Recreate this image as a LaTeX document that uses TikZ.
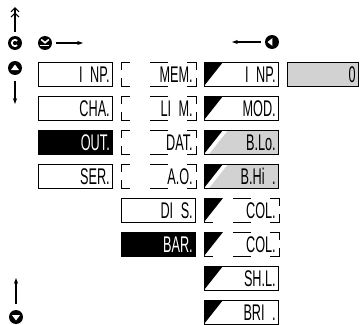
\documentclass[tikz,border=0pt]{standalone}
\usepackage{fontspec}
\newfontfamily\dispfont[FakeStretch=0.56]{Liberation Sans}
\usetikzlibrary{arrows.meta}

\begin{document}
\begin{tikzpicture}[
    x=0.75pt, y=-0.75pt,
    >={Stealth[length=4.5pt, width=3.2pt]},
    every node/.style={font=\dispfont\fontsize{17}{17}\selectfont},
    menu/.style={rectangle, draw, line width=0.75pt, outer sep=0pt, inner xsep=2.4pt, inner ysep=0pt,
        text width=51.4pt, align=right, minimum height=18pt, text height=12.2pt, text depth=0pt},
    sel/.style={menu, fill=black, text=white},
    ghost/.style={menu, draw=none},
    flag/.style={path picture={\fill[black] (path picture bounding box.north west) -- ++(19,0) -- ++(-19,24) -- cycle;}},
    grayflag/.style={fill=gray!35, path picture={
        \fill[white] (path picture bounding box.north west) -- ++(24,0) -- ++(-24,30.3) -- cycle;
        \fill[black] (path picture bounding box.north west) -- ++(19,0) -- ++(-19,24) -- cycle;}},
    value/.style={menu, fill=gray!35, text width=49pt},
    key/.style={circle, fill=black, minimum size=10.5pt, inner sep=0pt},
    nav/.style={->, line width=0.8pt}
]
\useasboundingbox (0,0) rectangle (362,325);

% keys and directions
\node[key] (kenter) at (15,43) {};
\node[key] (kesc) at (45,43) {};
\node[key] (kup) at (15,68) {};
\node[key] (kleft) at (272,42) {};
\node[key] (kdown) at (16,317) {};
\draw[white, line width=1.3pt] (kenter.center) ++(45:3.2) arc[start angle=45, end angle=315, radius=3.2];
\draw[white, line width=1.2pt] ([shift={(-3.8,-3.5)}]kesc.center) -- ++(3.8,3.2) -- ++(3.8,-3.2);
\draw[white, line width=1.2pt] ([shift={(-4.5,2.5)}]kesc.center) -- ++(9,0);
\fill[white] ([shift={(0,-3.5)}]kup.center) -- ++(4,5.5) -- ++(-8,0) -- cycle;
\fill[white] ([shift={(0,3.5)}]kdown.center) -- ++(4,-5.5) -- ++(-8,0) -- cycle;
\fill[white] ([shift={(-4.5,0)}]kleft.center) -- ++(5,-4) -- ++(0,8) -- cycle;

\coordinate (enterend) at (15,7);
\coordinate (escend) at (83,43);
\coordinate (upend) at (15,104);
\coordinate (leftend) at (232,42);
\coordinate (downend) at (16,278);
\draw[line width=0.8pt, -{Straight Barb[length=3pt, width=6pt] Straight Barb[length=3pt, width=6pt]}, shorten <=3pt] (kenter) -- (enterend);
\draw[nav, shorten <=3pt] (kesc) -- (escend);
\draw[nav, shorten <=4pt] (kup) -- (upend);
\draw[nav, shorten <=3pt] (kleft) -- (leftend);
\draw[nav, shorten <=4pt] (kdown) -- (downend);

% first column
\node[menu] (inp) at (75.5,74) {I NP.};
\node[menu] (cha) at (75.5,108) {CHA.};
\node[sel] (out) at (75.5,142) {OUT.};
\node[menu] (ser) at (75.5,176) {SER.};

% second column
\node[ghost] (mem) at (158.5,74) {MEM.};
\node[ghost] (lim) at (158.5,108) {LI M.};
\node[ghost] (dat) at (158.5,142) {DAT.};
\node[ghost] (ao) at (158.5,176) {A.O.};
\node[menu] (dis) at (158.5,210) {DI S.};
\node[sel] (bar) at (158.5,244) {BAR.};

% third column
\node[menu, flag] (inpb) at (241.5,74) {I NP.};
\node[menu, flag] (mod) at (241.5,108) {MOD.};
\node[menu, grayflag] (blo) at (241.5,142) {B.Lo.};
\node[menu, grayflag] (bhi) at (241.5,176) {B.Hi .};
\node[ghost, flag] (cola) at (241.5,210) {COL.};
\node[ghost, flag] (colb) at (241.5,244) {COL.};
\node[menu, flag] (shl) at (241.5,278) {SH.L.};
\node[menu, flag] (bri) at (241.5,312) {BRI .};

\node[value] (val) at (323,74) {0};

% broken frames
\foreach \n in {mem,lim,dat,ao,cola,colb}
  \draw[line width=0.75pt, shift={(\n.north west)}] (0,8) -- (0,0) -- (9,0) (29,0) -- (47,0) (66,0) -- (75,0) -- (75,8)
    (0,16) -- (0,24) -- (9,24) (29,24) -- (47,24) (66,24) -- (75,24) -- (75,16);
\end{tikzpicture}
\end{document}
